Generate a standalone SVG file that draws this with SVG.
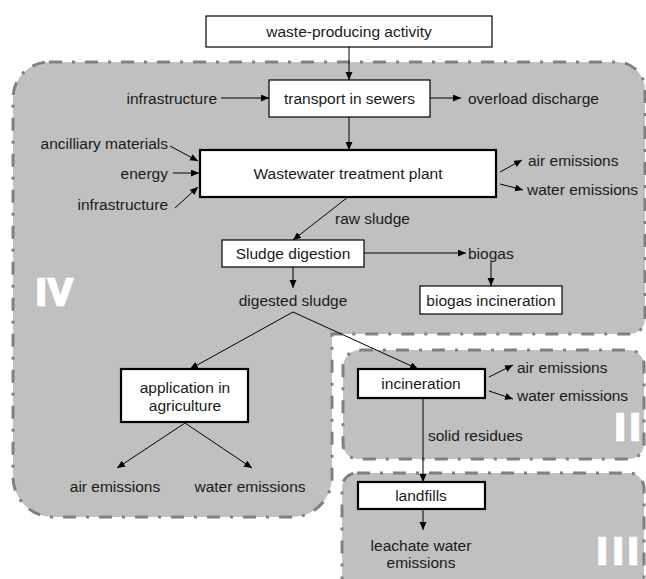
<svg xmlns="http://www.w3.org/2000/svg" width="646" height="579" viewBox="0 0 646 579">
<defs>
<marker id="ah" markerUnits="userSpaceOnUse" markerWidth="9" markerHeight="8" refX="8" refY="3.5" orient="auto">
<path d="M0,0 L8,3.5 L0,7 Z" fill="#000"/>
</marker>
<style>
.region{fill:#c0c0c0;stroke:#808080;stroke-width:3;stroke-dasharray:13 10 3 10;}
.box{fill:#fff;stroke:#000;stroke-width:1.2;}
.thick{fill:#fff;stroke:#000;stroke-width:2.2;}
text{font-family:"Liberation Sans",Arial,sans-serif;font-size:15.5px;fill:#1a1a1a;}
.c{text-anchor:middle;}
.e{text-anchor:end;}
.num{font-weight:bold;font-size:37px;fill:#fff;stroke:#fff;stroke-width:2.5;}
.conn line,.conn path{stroke:#000;stroke-width:1;fill:none;marker-end:url(#ah);}
</style>
</defs>
<rect width="646" height="579" fill="#fff"/>
<g id="regions">
<path id="region-IV" class="region" d="M 49 62 H 617 A 28 28 0 0 1 645 90 V 319 A 15 15 0 0 1 630 334 H 332 V 477 A 40 40 0 0 1 292 517 H 53 A 40 40 0 0 1 13 477 V 98 A 36 36 0 0 1 49 62 Z"/>
<path id="region-II" class="region" d="M 360 350 H 629 A 15 15 0 0 1 644 365 V 444 A 15 15 0 0 1 629 459 H 358 A 15 15 0 0 1 343 444 V 367 A 17 17 0 0 1 360 350 Z"/>
<path id="region-III" class="region" d="M 357 473 H 629 A 15 15 0 0 1 644 488 V 600 H 342 V 488 A 15 15 0 0 1 357 473 Z"/>
<text class="num" x="36 48" y="305">IV</text>
<text class="num" x="615 630" y="440">II</text>
<text class="num" x="597 613 628" y="564">III</text>
</g>
<g class="conn" id="connectors">
<line x1="349" y1="47" x2="349" y2="80"/>
<line x1="221" y1="98" x2="269" y2="98"/>
<line x1="430" y1="98" x2="461" y2="98"/>
<line x1="349" y1="117" x2="349" y2="150"/>
<line x1="170" y1="146" x2="198" y2="161"/>
<line x1="173" y1="173" x2="199" y2="173"/>
<line x1="175" y1="208" x2="198" y2="187"/>
<line x1="500" y1="172" x2="522" y2="160"/>
<line x1="500" y1="184" x2="523" y2="190"/>
<line x1="348" y1="197" x2="293" y2="240"/>
<line x1="364" y1="253" x2="466" y2="253"/>
<line x1="491" y1="262" x2="491" y2="286"/>
<line x1="293" y1="267" x2="293" y2="288"/>
<line x1="293" y1="312" x2="190" y2="369"/>
<line x1="293" y1="312" x2="418" y2="369"/>
<line x1="185" y1="423" x2="117" y2="468"/>
<line x1="185" y1="423" x2="252" y2="468"/>
<line x1="489" y1="377" x2="513" y2="365"/>
<line x1="489" y1="391" x2="513" y2="399"/>
<line x1="423" y1="398" x2="423" y2="482"/>
<line x1="423" y1="509" x2="423" y2="530"/>
</g>
<g id="waste-producing-activity">
<rect class="box" x="206" y="16" width="286" height="31"/>
<text class="c" x="349" y="36.5">waste-producing activity</text>
</g>
<g id="transport-in-sewers">
<rect class="box" x="269" y="80" width="161" height="37"/>
<text class="c" x="349.5" y="103.5">transport in sewers</text>
</g>
<g id="label-infrastructure-1"><text class="e" x="217" y="103.5">infrastructure</text></g>
<g id="label-overload"><text x="468" y="103.5">overload discharge</text></g>
<g id="wwtp">
<rect class="thick" x="200" y="150" width="296" height="47"/>
<text class="c" x="348" y="178.5">Wastewater treatment plant</text>
</g>
<g id="label-ancilliary"><text class="e" x="168" y="148.5">ancilliary materials</text></g>
<g id="label-energy"><text class="e" x="168" y="178.5">energy</text></g>
<g id="label-infrastructure-2"><text class="e" x="168" y="209.5">infrastructure</text></g>
<g id="label-wwtp-air"><text x="528" y="165.5">air emissions</text></g>
<g id="label-wwtp-water"><text x="527" y="194.5">water emissions</text></g>
<g id="label-raw-sludge"><text x="335" y="223.5">raw sludge</text></g>
<g id="sludge-digestion">
<rect class="box" x="222" y="240" width="142" height="27"/>
<text class="c" x="293" y="258.5">Sludge digestion</text>
</g>
<g id="label-biogas"><text x="468" y="258.5">biogas</text></g>
<g id="biogas-incineration">
<rect class="box" x="420" y="286" width="142" height="28"/>
<text class="c" x="491" y="305.5">biogas incineration</text>
</g>
<g id="label-digested-sludge"><text class="c" x="293" y="305.5">digested sludge</text></g>
<g id="application-in-agriculture">
<rect class="thick" x="121" y="369" width="127" height="53"/>
<text class="c" x="185" y="392.5">application in</text>
<text class="c" x="185" y="410.5">agriculture</text>
</g>
<g id="label-agri-air"><text class="c" x="115" y="491.5">air emissions</text></g>
<g id="label-agri-water"><text class="c" x="250" y="491.5">water emissions</text></g>
<g id="incineration">
<rect class="thick" x="358" y="369" width="127" height="29"/>
<text class="c" x="421" y="388.5">incineration</text>
</g>
<g id="label-inc-air"><text x="517" y="372.5">air emissions</text></g>
<g id="label-inc-water"><text x="517" y="400.5">water emissions</text></g>
<g id="label-solid-residues"><text x="428" y="440.5">solid residues</text></g>
<g id="landfills">
<rect class="thick" x="358" y="482" width="127" height="27"/>
<text class="c" x="421" y="500.5">landfills</text>
</g>
<g id="label-leachate">
<text class="c" x="421" y="550.5">leachate water</text>
<text class="c" x="421" y="567.5">emissions</text>
</g>
</svg>
